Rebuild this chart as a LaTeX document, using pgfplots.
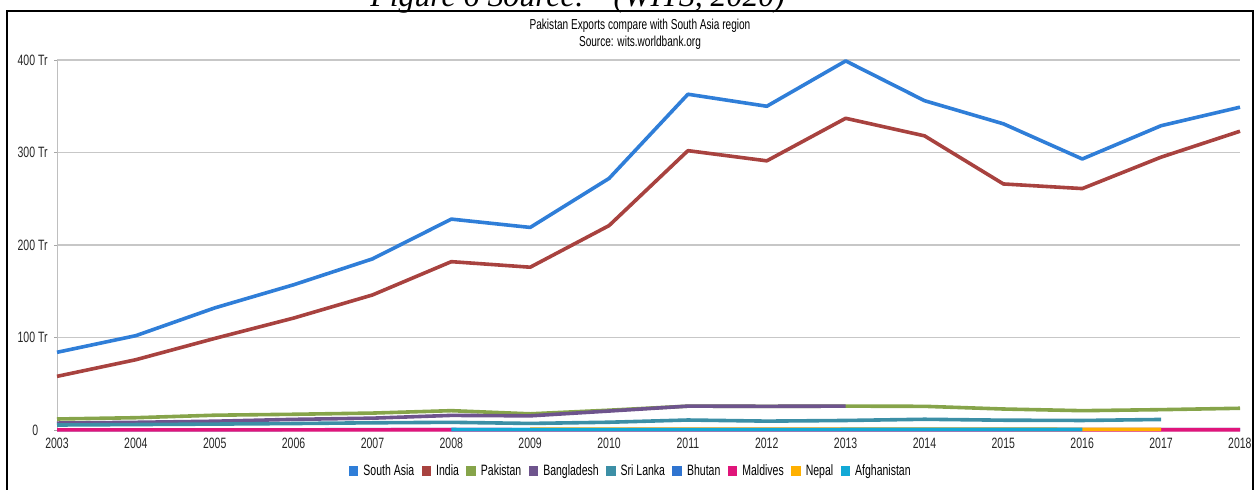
\documentclass[border=0pt]{standalone}
\usepackage{pgfplots}
\pgfplotsset{compat=1.18}
\usepackage{fontspec}
\setmainfont{Liberation Sans}[FakeStretch=0.70]
\newfontfamily\serifit{Liberation Serif}[Scale=1]
\definecolor{cSA}{HTML}{2F7ED8}
\definecolor{cIN}{HTML}{A8423F}
\definecolor{cPK}{HTML}{86A44A}
\definecolor{cBD}{HTML}{6E548D}
\definecolor{cLK}{HTML}{3C8FA6}
\definecolor{cBT}{HTML}{2F74D0}
\definecolor{cMV}{HTML}{E0157A}
\definecolor{cNP}{HTML}{FFB000}
\definecolor{cAF}{HTML}{13A9D6}
\begin{document}
\begin{tikzpicture}
\useasboundingbox (0,0) rectangle (629pt,244.5pt);
% frame
\draw[line width=1pt] (3.5pt,-5pt) -- (3.5pt,239pt) -- (626.5pt,239pt) -- (626.5pt,-5pt);
\node[anchor=base west, inner sep=0pt, font=\fontsize{15.9}{17}\selectfont\serifit\itshape] at (185pt,241.5pt) {Figure 6 Source: “(WITS, 2020)};
\node[align=center, font=\fontsize{7.2}{8.2}\selectfont, inner sep=0pt] at (320pt,227.3pt) {Pakistan Exports compare with South Asia region\\Source: wits.worldbank.org};
\begin{axis}[
  at={(28.5pt,29.5pt)}, anchor=south west,
  scale only axis, width=591.5pt, height=185pt,
  xmin=2003, xmax=2018, ymin=0, ymax=400,
  xtick={2003,2004,...,2018},
  xticklabels={2003,2004,2005,2006,2007,2008,2009,2010,2011,2012,2013,2014,2015,2016,2017,2018},
  ytick={0,100,200,300,400},
  yticklabels={0\phantom{ T},100 Tr,200 Tr,300 Tr,400 Tr},
  ticklabel style={font=\fontsize{7.5}{8.5}\selectfont, text=black!85},
  /pgf/number format/assume math mode=true,
  axis lines=left, axis line style={draw=black!25, line width=0.5pt, -},
  x axis line style={draw=none},
  ymajorgrids, grid style={draw=black!22, line width=0.6pt},
  xtick style={draw=none},
  ytick style={draw=black!35, line width=0.5pt},
  tick align=outside, major tick length=1.5pt,
  yticklabel style={xshift=0.3pt},
  xticklabel style={yshift=1pt},
  clip=false,
  legend columns=-1,
  legend style={at={(0.485,-0.111)}, anchor=center, draw=none, fill=none,
    font=\fontsize{7.5}{8.5}\selectfont,
    /tikz/every odd column/.append style={column sep=1.5pt},
    /tikz/every even column/.append style={column sep=2.7pt},
    nodes={inner sep=1pt}},
  legend image code/.code={\fill[#1, draw=none] (0pt,-2.4pt) rectangle (4.8pt,2.4pt);},
  every axis plot/.append style={line join=round},
]
\addplot[color=cSA, line width=1.8pt] coordinates {
(2003,84) (2004,102) (2005,132) (2006,157) (2007,185) (2008,228) (2009,219) (2010,272)
(2011,363) (2012,350) (2013,399) (2014,356) (2015,331) (2016,293) (2017,329) (2018,349)};
\addlegendentry{South Asia}
\addplot[color=cIN, line width=1.8pt] coordinates {
(2003,58) (2004,76) (2005,99) (2006,121) (2007,146) (2008,182) (2009,176) (2010,221)
(2011,302) (2012,291) (2013,337) (2014,318) (2015,266) (2016,261) (2017,295) (2018,323)};
\addlegendentry{India}
\addplot[color=cPK, line width=1.8pt] coordinates {
(2003,11.9) (2004,13.3) (2005,16) (2006,17) (2007,18.3) (2008,20.9) (2009,17.5) (2010,21.4)
(2011,25.8) (2012,25.6) (2013,25.8) (2014,25.6) (2015,22.7) (2016,20.9) (2017,22) (2018,23.5)};
\addlegendentry{Pakistan}
\addplot[color=cBD, line width=1.8pt] coordinates {
(2003,7.5) (2004,8.3) (2005,9.5) (2006,11.5) (2007,12.8) (2008,15.8) (2009,15.3) (2010,20.5)
(2011,25.8) (2012,25.6) (2013,25.8)};
\addlegendentry{Bangladesh}
\addplot[color=cLK, line width=1.8pt] coordinates {
(2003,5.4) (2004,5.9) (2005,6.4) (2006,7) (2007,7.8) (2008,8.3) (2009,7.1) (2010,8.4)
(2011,10.8) (2012,9.6) (2013,10.3) (2014,11.6) (2015,10.6) (2016,10.3) (2017,11.4)};
\addlegendentry{Sri Lanka}
\addplot[color=cBT, line width=1.6pt] coordinates {
(2003,0.3) (2004,0.3) (2005,0.3) (2006,0.4) (2007,0.5) (2008,0.5) (2009,0.5) (2010,0.6)
(2011,0.6) (2012,0.6) (2013,0.6) (2014,0.6) (2015,0.6) (2016,0.6) (2017,0.6) (2018,0.6)};
\addlegendentry{Bhutan}
\addplot[color=cMV, line width=1.8pt] coordinates {
(2003,0.2) (2004,0.2) (2005,0.2) (2006,0.2) (2007,0.2) (2008,0.3) (2009,0.2) (2010,0.2)
(2011,0.3) (2012,0.3) (2013,0.3) (2014,0.3) (2015,0.3) (2016,0.3) (2017,0.3) (2018,0.3)};
\addlegendentry{Maldives}
\addplot[color=cNP, line width=1.8pt] coordinates {
(2009,0.9) (2010,0.9) (2011,0.9) (2012,0.9) (2013,0.9) (2014,0.9) (2015,0.9) (2016,0.7) (2017,0.7)};
\addlegendentry{Nepal}
\addplot[color=cAF, line width=1.8pt] coordinates {
(2008,0.5) (2009,0.4) (2010,0.4) (2011,0.4) (2012,0.4) (2013,0.5) (2014,0.6) (2015,0.6) (2016,0.6)};
\addlegendentry{Afghanistan}
\end{axis}
\end{tikzpicture}
\end{document}
